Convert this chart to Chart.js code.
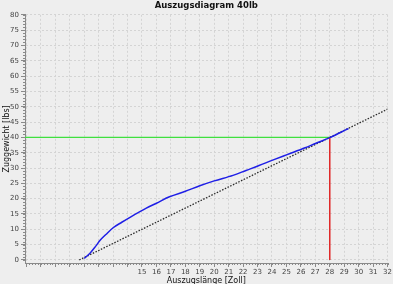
<!DOCTYPE html>
<html>
<head>
<meta charset="utf-8">
<script src="https://cdn.jsdelivr.net/npm/chart.js@4/dist/chart.umd.min.js"></script>
<style>
  html, body { margin: 0; padding: 0; background: #eeeeee; }
  #wrap { width: 393px; height: 284px; }
</style>
</head>
<body>
<div id="wrap"><canvas id="c" width="393" height="284"></canvas></div>
<script>
// Auszugskurve (draw force curve)
const pullX = [11.0, 11.4, 11.8, 12.1, 12.5, 13.0, 13.6, 14.2, 15.3, 16.0, 16.9, 18.0, 19.0, 20.0, 21.3, 22.2, 23.1, 24.0, 25.0, 26.3, 27.0, 28.0, 28.7, 29.3];
const pullY = [0.5, 2.2, 4.5, 6.4, 8.3, 10.5, 12.3, 14.0, 16.9, 18.5, 20.6, 22.4, 24.2, 25.8, 27.6, 29.2, 30.8, 32.5, 34.3, 36.6, 38.0, 39.9, 41.5, 42.9];

// straight reference line (dotted)
const refX = [10.66, 32];
const refY = [0, 49.2];

// marker at draw length / draw weight
const drawLength = 28;
const drawWeight = 40;

// axes
const xMin = 6.9, xMax = 32;
const yMin = -1, yMax = 80;
const xTicks = [7, 8, 9, 10, 11, 12, 13, 14, 15, 16, 17, 18, 19, 20, 21, 22, 23, 24, 25, 26, 27, 28, 29, 30, 31, 32];
const xLabelFrom = 15;
const yTicks = [0, 5, 10, 15, 20, 25, 30, 35, 40, 45, 50, 55, 60, 65, 70, 75, 80];
const xMinorStep = 0.2;
const yMinorStep = 1;

const pts = (xs, ys) => xs.map((x, i) => ({ x: x, y: ys[i] }));

// small minor tick marks along both axes
const minorTicks = {
  id: 'minorTicks',
  afterDraw(chart) {
    const { ctx, scales: { x, y } } = chart;
    ctx.save();
    ctx.strokeStyle = '#8a8a8a';
    ctx.lineWidth = 1;
    ctx.beginPath();
    const n = Math.round((xTicks[xTicks.length - 1] - xTicks[0]) / xMinorStep);
    for (let i = 0; i <= n; i++) {
      const px = Math.round(x.getPixelForValue(xTicks[0] + i * xMinorStep)) + 0.5;
      ctx.moveTo(px, y.bottom);
      ctx.lineTo(px, y.bottom + 2);
    }
    for (let v = yTicks[0]; v <= yTicks[yTicks.length - 1]; v += yMinorStep) {
      const py = Math.round(y.getPixelForValue(v)) + 0.5;
      ctx.moveTo(x.left - 2, py);
      ctx.lineTo(x.left, py);
    }
    ctx.stroke();
    ctx.restore();
  }
};

const gridStyle = {
  color: '#d4d4d4',
  lineWidth: 1,
  tickColor: '#8a8a8a',
  tickBorderDash: [],
  tickLength: 4
};
const borderStyle = { display: true, color: '#8a8a8a', dash: [2, 2] };

new Chart(document.getElementById('c'), {
  type: 'scatter',
  data: {
    datasets: [
      { label: 'Zuggewicht', data: pts(pullX, pullY), showLine: true, borderColor: '#1f1fe6', borderWidth: 1.5, pointRadius: 0, cubicInterpolationMode: 'monotone', order: 1 },
      { label: 'Referenz', data: pts(refX, refY), showLine: true, borderColor: '#2a2a2a', borderWidth: 1.3, borderDash: [1.5, 1.5], pointRadius: 0, order: 2 },
      { label: 'Gewicht', data: pts([xMin, drawLength], [drawWeight, drawWeight]), showLine: true, borderColor: '#3fe03f', borderWidth: 1.3, pointRadius: 0, order: 3 },
      { label: 'Auszug', data: pts([drawLength, drawLength], [0, drawWeight]), showLine: true, borderColor: '#e02626', borderWidth: 1.5, pointRadius: 0, order: 3 }
    ]
  },
  options: {
    responsive: false,
    animation: false,
    layout: { padding: { right: 4 } },
    plugins: {
      legend: { display: false },
      tooltip: { enabled: false },
      title: {
        display: true,
        text: 'Auszugsdiagram 40lb',
        fullSize: false,
        color: '#111',
        font: { family: 'DejaVu Sans', size: 8.5, weight: 'bold' },
        padding: { top: 1, bottom: 3.6 }
      }
    },
    scales: {
      x: {
        type: 'linear',
        min: xMin,
        max: xMax,
        afterBuildTicks: s => { s.ticks = xTicks.map(v => ({ value: v })); },
        afterFit: s => { s.height = 21; },
        ticks: {
          autoSkip: false,
          maxRotation: 0,
          padding: 1,
          color: '#444',
          font: { family: 'DejaVu Sans', size: 7 },
          callback: v => (v >= xLabelFrom ? String(v) : '')
        },
        grid: gridStyle,
        border: borderStyle,
        title: {
          display: true,
          text: 'Auszugslänge [Zoll]',
          color: '#111',
          font: { family: 'DejaVu Sans', size: 8 },
          padding: { top: 0, bottom: -2 }
        }
      },
      y: {
        type: 'linear',
        min: yMin,
        max: yMax,
        afterBuildTicks: s => { s.ticks = yTicks.map(v => ({ value: v })); },
        afterFit: s => { s.width = 25; },
        ticks: {
          padding: 2,
          color: '#444',
          font: { family: 'DejaVu Sans', size: 7 }
        },
        grid: gridStyle,
        border: borderStyle,
        title: {
          display: true,
          text: 'Zuggewicht [lbs]',
          color: '#111',
          font: { family: 'DejaVu Sans', size: 8 },
          padding: { top: 2, bottom: 0 }
        }
      }
    }
  },
  plugins: [minorTicks]
});
</script>
</body>
</html>
